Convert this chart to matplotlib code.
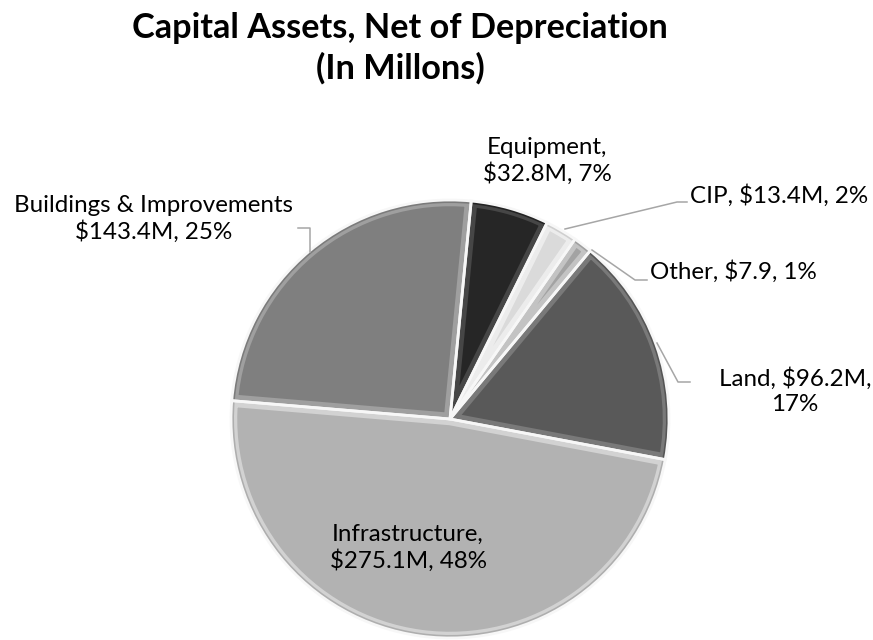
import matplotlib
matplotlib.use("Agg")
import matplotlib.pyplot as plt
from matplotlib.patches import Wedge
import matplotlib.colors as mcolors

# ---- data ----
categories = ["Buildings & Improvements", "Equipment", "CIP", "Other", "Land", "Infrastructure"]
values = [143.4, 32.8, 13.4, 7.9, 96.2, 275.1]
value_text = ["$143.4M", "$32.8M", "$13.4M", "$7.9", "$96.2M", "$275.1M"]
pct_text = ["25%", "7%", "2%", "1%", "17%", "48%"]
colors = ["#7f7f7f", "#262626", "#dadada", "#a3a3a3", "#595959", "#b2b2b2"]

W, H = 873, 640
fig = plt.figure(figsize=(W / 100, H / 100), dpi=100)
ax = fig.add_axes([0, 0, 1, 1])

def Y(y):
    return H - y

cx, cy, R = 450, Y(419), 219
wedges, _ = ax.pie(values, colors=colors, startangle=175.2, counterclock=False,
                   center=(cx, cy), radius=R, frame=True,
                   wedgeprops=dict(edgecolor="none", linewidth=0))
ax.set_xlim(0, W)
ax.set_ylim(0, H)
ax.set_aspect("equal")
ax.axis("off")

# bevel-like shading: lighter inner border + darker rim, white separators
for w, c in zip(wedges, colors):
    rgb = mcolors.to_rgb(c)
    light = tuple(min(1, v + 0.25) for v in rgb)
    dark = tuple(max(0, v - 0.15) for v in rgb)
    hl = Wedge(w.center, w.r, w.theta1, w.theta2, facecolor="none",
               edgecolor=light, linewidth=9, alpha=0.5, zorder=w.get_zorder() + 0.1)
    ax.add_patch(hl)
    hl.set_clip_path(w)
    rim = Wedge(w.center, w.r, w.theta1, w.theta2, width=3, facecolor=dark,
                edgecolor="none", alpha=0.5, zorder=w.get_zorder() + 0.2)
    ax.add_patch(rim)
    rim.set_clip_path(w)
    sep = Wedge(w.center, w.r, w.theta1, w.theta2, facecolor="none",
                edgecolor="#f7f7f7", linewidth=2.0, zorder=w.get_zorder() + 0.3)
    ax.add_patch(sep)

FONT = "Lato"
LS = 17.4
lab = {}
lab[0] = (f"{categories[0]}\n{value_text[0]}, {pct_text[0]}", 154, 219, "center")
lab[1] = (f"{categories[1]},\n{value_text[1]}, {pct_text[1]}", 547, 161, "center")
lab[2] = (f"{categories[2]}, {value_text[2]}, {pct_text[2]}", 690, 196, "left")
lab[3] = (f"{categories[3]}, {value_text[3]}, {pct_text[3]}", 650, 272, "left")
lab[4] = (f"{categories[4]}, {value_text[4]},\n{pct_text[4]}", 795, 391, "center")
lab[5] = (f"{categories[5]},\n{value_text[5]}, {pct_text[5]}", 408, 548, "center")
for i, (t, x, y, ha) in lab.items():
    ax.text(x, Y(y), t, ha=ha, va="center", fontsize=LS, family=FONT,
            multialignment="center", linespacing=1.2, color="#000000", zorder=10)

# leader lines
lc = "#a6a6a6"
leaders = [
    [(298, 228), (310, 228), (310, 252)],
    [(565, 229), (677, 202), (687, 202)],
    [(592, 250), (635, 280), (647, 280)],
    [(657, 343), (678, 382), (690, 382)],
]
for pts in leaders:
    ax.plot([p[0] for p in pts], [Y(p[1]) for p in pts], color=lc, lw=1.1, zorder=9)

ax.text(400, Y(48), "Capital Assets, Net of Depreciation\n(In Millons)", ha="center", va="center",
        fontsize=24.7, family=FONT, fontweight="bold", linespacing=1.3)

fig.savefig("out.png", dpi=100)
